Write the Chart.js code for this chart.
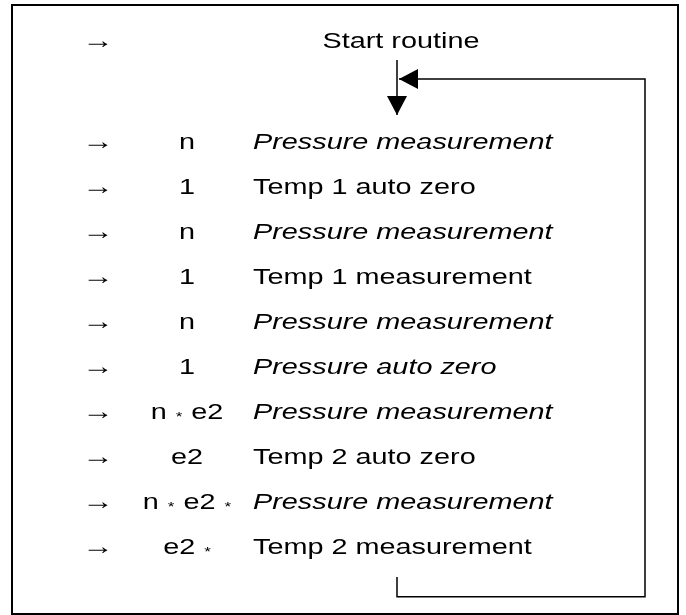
<!DOCTYPE html>
<html>
<head>
<meta charset="utf-8">
<script src="https://cdn.jsdelivr.net/npm/chart.js@4.4.1/dist/chart.umd.min.js"></script>
<style>
  html, body { margin: 0; padding: 0; background: #fff; }
  #wrap { width: 686px; height: 615px; }
</style>
</head>
<body>
<div id="wrap"><canvas id="chart"></canvas></div>
<script>
// routine steps, top to bottom
const titleLabel = 'Start routine';
const rowCodes = ['n', '1', 'n', '1', 'n', '1', 'n * e2', 'e2', 'n * e2 *', 'e2 *'];
const rowLabels = [
    'Pressure measurement',
    'Temp 1 auto zero',
    'Pressure measurement',
    'Temp 1 measurement',
    'Pressure measurement',
    'Pressure auto zero',
    'Pressure measurement',
    'Temp 2 auto zero',
    'Pressure measurement',
    'Temp 2 measurement',
];
const rowItalic = [true, false, true, false, true, true, true, false, true, false];
const rowIndex = rowLabels.map((label, i) => i + 1);

// layout: x in page units, y in row units (row 1 = first step)
const titleRow = -1.244;
const colArrow = 98;
const colCode = 187;
const colLabel = 253;
const colTitle = 401;
const stemPath = [{ x: 397, y: -0.8 }, { x: 397, y: 0.42 }];
const loopPath = [
    { x: 397, y: 10.69 },
    { x: 397, y: 11.13 },
    { x: 645, y: 11.13 },
    { x: 645, y: -0.38 },
    { x: 399, y: -0.38 },
];

const fontSize = 22;
const stretch = 1.31;
const family = '"Liberation Sans", Arial, sans-serif';

const drawText = (ctx, str, px, baseline, font, align) => {
    ctx.font = font;
    const w = ctx.measureText(str).width * stretch;
    const left = align === 'center' ? px - w / 2 : px;
    ctx.save();
    ctx.translate(left, baseline);
    ctx.scale(stretch, 1);
    ctx.textAlign = 'left';
    ctx.textBaseline = 'alphabetic';
    ctx.fillText(str, 0, 0);
    ctx.restore();
    return w;
};

const drawCode = (ctx, code, cx, baseline) => {
    const tokens = code.split(' ');
    const bigFont = fontSize + 'px ' + family;
    const smallFont = '13px ' + family;
    const gap = 9;
    const widths = tokens.map((t) => {
        ctx.font = t === '*' ? smallFont : bigFont;
        return ctx.measureText(t).width * stretch;
    });
    const total = widths.reduce((a, b) => a + b, 0) + gap * (tokens.length - 1);
    let px = cx - total / 2;
    tokens.forEach((t, i) => {
        if (t === '*') {
            drawText(ctx, t, px, baseline + 2, smallFont, 'left');
        } else {
            drawText(ctx, t, px, baseline, bigFont, 'left');
        }
        px += widths[i] + gap;
    });
};

const drawHead = (ctx, tip, from, len, half) => {
    const ang = Math.atan2(tip.y - from.y, tip.x - from.x);
    ctx.save();
    ctx.translate(tip.x, tip.y);
    ctx.rotate(ang);
    ctx.beginPath();
    ctx.moveTo(0, 0);
    ctx.lineTo(-len, -half);
    ctx.lineTo(-len, half);
    ctx.closePath();
    ctx.fillStyle = '#000';
    ctx.fill();
    ctx.restore();
};

const diagramPlugin = {
    id: 'diagram',
    beforeDraw(chart) {
        const { ctx } = chart;
        ctx.save();
        ctx.fillStyle = '#fff';
        ctx.fillRect(0, 0, chart.width, chart.height);
        ctx.strokeStyle = '#000';
        ctx.lineWidth = 2;
        ctx.strokeRect(12, 5, chart.width - 20, chart.height - 6);
        ctx.restore();
    },
    afterDatasetsDraw(chart) {
        const { ctx, scales: { x, y } } = chart;
        const capHalf = fontSize * 0.716 / 2;
        ctx.save();
        ctx.fillStyle = '#000';

        // arrowheads at the ends of the connectors
        [stemPath, loopPath].forEach((path) => {
            const n = path.length;
            const tip = { x: x.getPixelForValue(path[n - 1].x), y: y.getPixelForValue(path[n - 1].y) };
            const from = { x: x.getPixelForValue(path[n - 2].x), y: y.getPixelForValue(path[n - 2].y) };
            drawHead(ctx, tip, from, 19, 10);
        });

        const arrowFont = '24px "Liberation Serif", "Times New Roman", serif';
        const titleBase = y.getPixelForValue(titleRow) + capHalf;
        drawText(ctx, '\u2192', x.getPixelForValue(colArrow), titleBase, arrowFont, 'center');
        drawText(ctx, titleLabel, x.getPixelForValue(colTitle), titleBase, fontSize + 'px ' + family, 'center');

        rowIndex.forEach((r, i) => {
            const base = y.getPixelForValue(r) + capHalf;
            drawText(ctx, '\u2192', x.getPixelForValue(colArrow), base, arrowFont, 'center');
            drawCode(ctx, rowCodes[i], x.getPixelForValue(colCode), base);
            const font = (rowItalic[i] ? 'italic ' : '') + fontSize + 'px ' + family;
            drawText(ctx, rowLabels[i], x.getPixelForValue(colLabel), base, font, 'left');
        });
        ctx.restore();
    },
};

const lineStyle = {
    showLine: true,
    borderColor: '#000',
    borderWidth: 1.5,
    pointRadius: 0,
    fill: false,
    tension: 0,
};

new Chart('chart', {
    type: 'scatter',
    data: {
        datasets: [
            { label: 'stem', data: stemPath, ...lineStyle },
            { label: 'loop', data: loopPath, ...lineStyle },
        ],
    },
    options: {
        responsive: true,
        maintainAspectRatio: false,
        animation: false,
        layout: { padding: 0 },
        plugins: {
            legend: { display: false },
            tooltip: { enabled: false },
        },
        scales: {
            x: { type: 'linear', display: false, min: 0, max: 686 },
            y: { type: 'linear', display: false, reverse: true, min: -2.1333, max: 11.5333 },
        },
    },
    plugins: [diagramPlugin],
});
</script>
</body>
</html>
